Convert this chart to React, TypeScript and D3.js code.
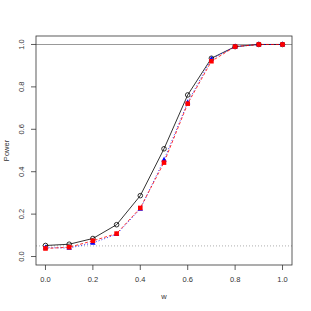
import React from 'react';
import * as d3 from 'd3';

// values
const wValues = [0, 0.1, 0.2, 0.3, 0.4, 0.5, 0.6, 0.7, 0.8, 0.9, 1.0];
const powerCircle = [0.052, 0.058, 0.085, 0.15, 0.287, 0.508, 0.762, 0.935, 0.99, 1.0, 1.0];
const powerRed = [0.038, 0.044, 0.074, 0.108, 0.229, 0.443, 0.721, 0.921, 0.99, 1.0, 1.0];
const powerBlue = [0.042, 0.04, 0.064, 0.105, 0.224, 0.456, 0.727, 0.932, 0.99, 1.0, 1.0];
const xTicks = [0, 0.2, 0.4, 0.6, 0.8, 1.0];
const yTicks = [0, 0.2, 0.4, 0.6, 0.8, 1.0];
const alphaLevel = 0.05;

const W = 311;
const H = 311;
const box = { left: 36, right: 292, top: 36, bottom: 265 };
const font = 'Liberation Sans, Arial, Helvetica, sans-serif';
const ink = '#333';

const App = () => {
  // R-style 4% padding around the data range
  const x = d3.scaleLinear().domain([-0.04, 1.04]).range([box.left, box.right]);
  const y = d3.scaleLinear().domain([-0.04, 1.04]).range([box.bottom, box.top]);

  const line = (vals: number[]) =>
    d3.line<number>()
      .x((d, i) => x(wValues[i]))
      .y(d => y(d))(vals) || '';

  return (
    <svg width={W} height={H} style={{ position: 'absolute', left: 0, top: 0, background: '#fff' }}>
      {/* reference lines */}
      <line x1={box.left} x2={box.right} y1={y(1)} y2={y(1)} stroke="#999" strokeWidth={1.2} />
      <line x1={box.left} x2={box.right} y1={y(alphaLevel)} y2={y(alphaLevel)}
        stroke="#999" strokeWidth={0.8} strokeDasharray="1,2" />

      {/* series lines */}
      <path d={line(powerCircle)} fill="none" stroke="#000" strokeWidth={0.8} />
      <path d={line(powerBlue)} fill="none" stroke="#0000ff" strokeWidth={0.8} strokeDasharray="1,2" />
      <path d={line(powerRed)} fill="none" stroke="#ff0000" strokeWidth={0.8} strokeDasharray="3,2" />

      {/* points */}
      {powerCircle.map((v, i) => (
        <circle key={'c' + i} cx={x(wValues[i])} cy={y(v)} r={2.3} fill="none" stroke="#000" strokeWidth={0.8} />
      ))}
      {powerBlue.map((v, i) => {
        const cx = x(wValues[i]);
        const cy = y(v);
        return (
          <path key={'b' + i} d={`M${cx},${cy - 3}L${cx + 2.7},${cy + 1.8}L${cx - 2.7},${cy + 1.8}Z`} fill="#0000ff" />
        );
      })}
      {powerRed.map((v, i) => (
        <rect key={'r' + i} x={x(wValues[i]) - 2.3} y={y(v) - 2.3} width={4.6} height={4.6} fill="#ff0000" />
      ))}

      {/* box */}
      <rect x={box.left} y={box.top} width={box.right - box.left} height={box.bottom - box.top}
        fill="none" stroke={ink} strokeWidth={0.8} />

      {/* x axis */}
      {xTicks.map(t => (
        <g key={'x' + t}>
          <line x1={x(t)} x2={x(t)} y1={box.bottom} y2={box.bottom + 5} stroke={ink} strokeWidth={0.8} />
          <text x={x(t)} y={282} textAnchor="middle" fontSize={7.5} fontFamily={font} fill={ink}>{t.toFixed(1)}</text>
        </g>
      ))}
      {/* y axis */}
      {yTicks.map(t => (
        <g key={'y' + t}>
          <line x1={box.left - 5} x2={box.left} y1={y(t)} y2={y(t)} stroke={ink} strokeWidth={0.8} />
          <text transform={`translate(24,${y(t)}) rotate(-90)`} textAnchor="middle" fontSize={7.5} fontFamily={font} fill={ink}>{t.toFixed(1)}</text>
        </g>
      ))}

      <text x={(box.left + box.right) / 2} y={299} textAnchor="middle" fontSize={7.5} fontFamily={font} fill={ink}>w</text>
      <text transform={`translate(9,${(box.top + box.bottom) / 2}) rotate(-90)`} textAnchor="middle" fontSize={7.5} fontFamily={font} fill={ink}>Power</text>
    </svg>
  );
};

export default App;
